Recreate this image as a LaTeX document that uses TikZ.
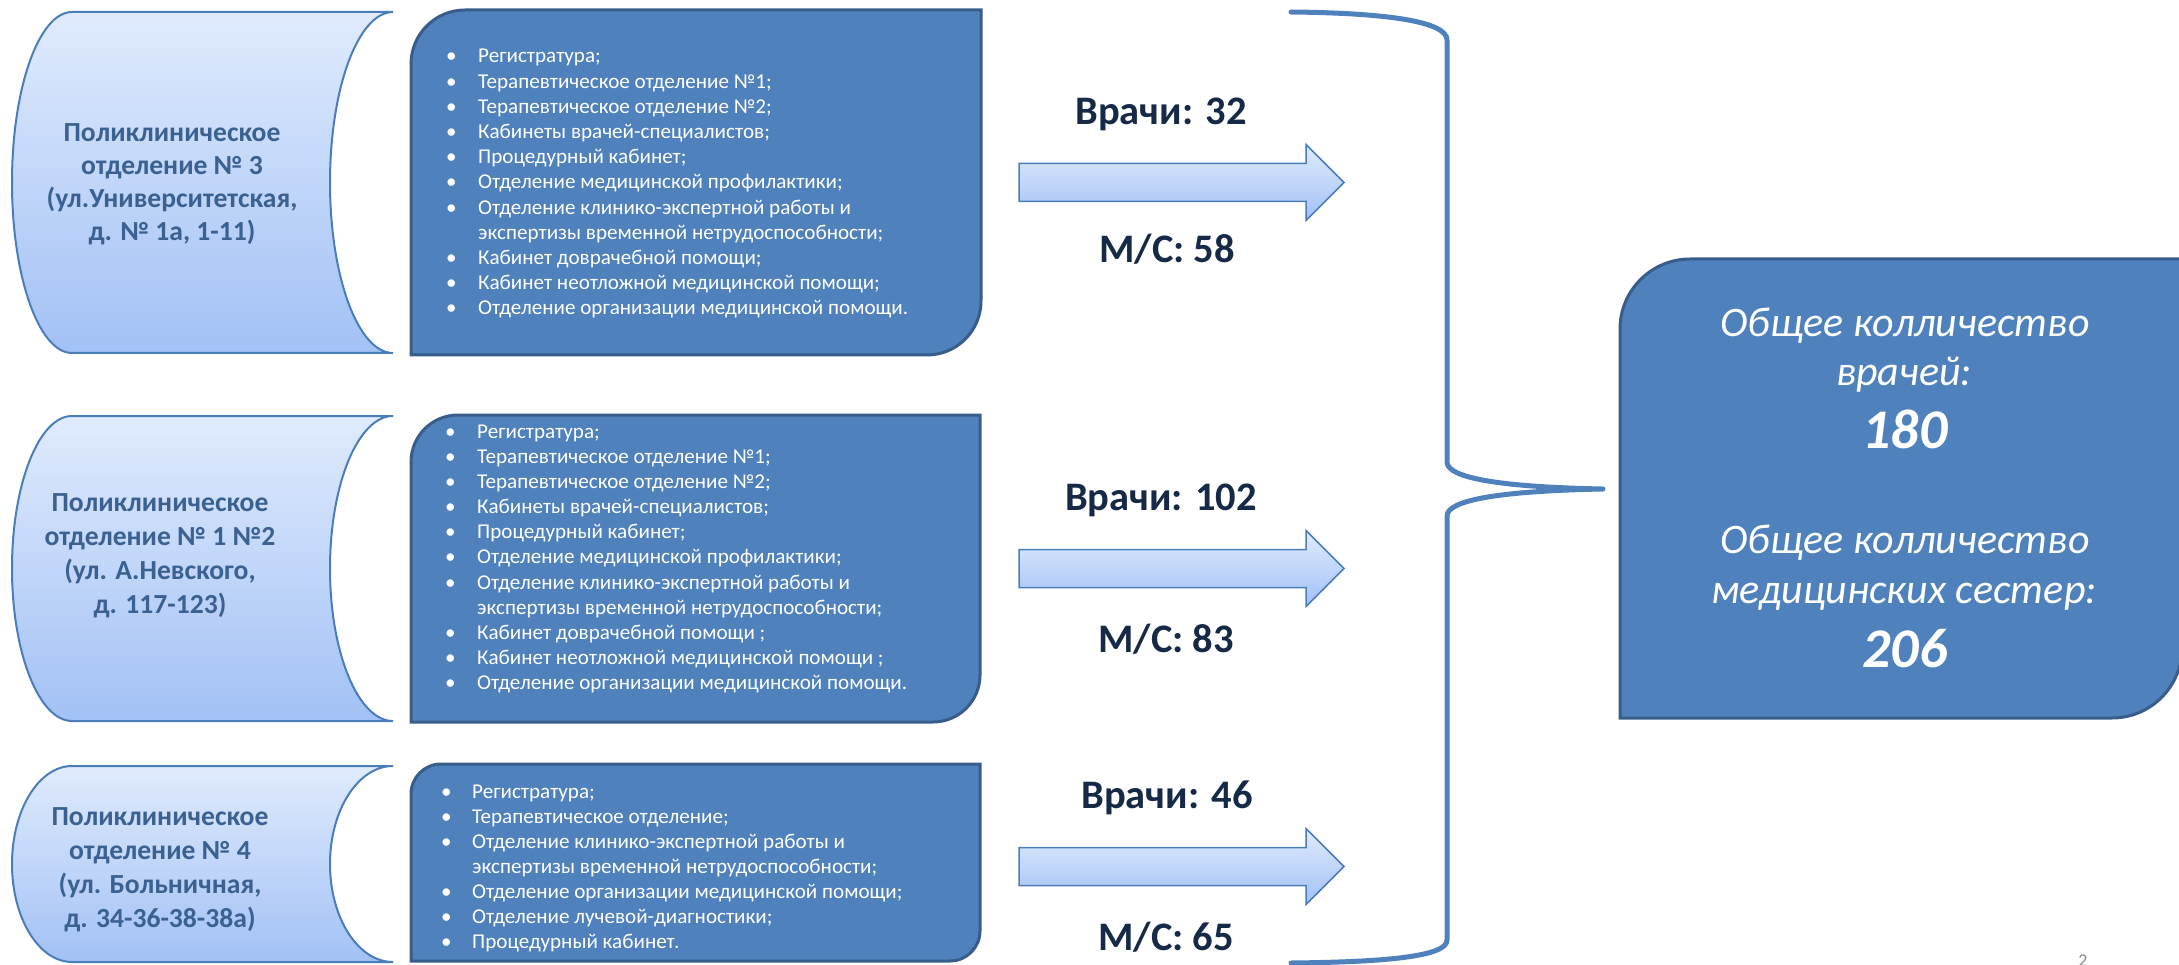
\documentclass[tikz,border=0pt]{standalone}
\usepackage{fontspec}
\setmainfont{Carlito}
\definecolor{boxblue}{RGB}{79,129,189}
\definecolor{boxedge}{RGB}{56,93,138}
\definecolor{lighttop}{RGB}{224,235,253}
\definecolor{lightbot}{RGB}{162,193,245}
\definecolor{shapeedge}{RGB}{74,126,187}
\definecolor{deptext}{RGB}{58,97,145}
\definecolor{navy}{RGB}{22,41,70}
\definecolor{slidenum}{RGB}{137,137,137}

\newcommand\bl[1]{\hbox{\makebox[32pt][l]{\textbullet}#1}}
\newcommand\blb[1]{\hbox{\makebox[31pt][l]{\textbullet}#1}}
\newcommand\cl[1]{\hbox{\hspace*{32pt}#1}}
\newcommand\clb[1]{\hbox{\hspace*{31pt}#1}}
\newcommand\cln[1]{\hbox to 330pt{\hfil#1\hfil}}

\newcommand\storedshape[2]{%
  \pgfmathsetmacro\sdmid{(#1+#2)/2}%
  \pgfmathsetmacro\sdk{(#2-#1)/2*0.5523}%
  \path[stored] (72,#1) -- (393,#1)
    .. controls (358.2,#1) and (330,\sdmid-\sdk) .. (330,\sdmid)
    .. controls (330,\sdmid+\sdk) and (358.2,#2) .. (393,#2)
    -- (72,#2)
    .. controls (38.9,#2) and (12,\sdmid+\sdk) .. (12,\sdmid)
    .. controls (12,\sdmid-\sdk) and (38.9,#1) .. (72,#1) -- cycle;}

\newcommand\diagbox[5]{%
  \pgfmathsetmacro\dbk{#5*0.4477}%
  \path[bluebox] (#1,#2+#5) .. controls (#1,#2+\dbk) and (#1+\dbk,#2) .. (#1+#5,#2)
   -- (#3,#2) -- (#3,#4-#5) .. controls (#3,#4-\dbk) and (#3-\dbk,#4) .. (#3-#5,#4)
   -- (#1,#4) -- cycle;}

\newcommand\blockarr[1]{%
  \path[blockarrow] (1019,#1-19) -- (1306,#1-19) -- (1306,#1-38) -- (1344,#1)
    -- (1306,#1+38) -- (1306,#1+19) -- (1019,#1+19) -- cycle;}

\tikzset{
 stored/.style={top color=lighttop, bottom color=lightbot, draw=shapeedge, line width=2pt},
 bluebox/.style={fill=boxblue, draw=boxedge, line width=3pt},
 blockarrow/.style={top color=lighttop, bottom color=lightbot, draw=shapeedge, line width=1.5pt},
 bracestyle/.style={draw=boxblue, line width=5pt, line cap=round, line join=round},
 deptxt/.style={anchor=base, inner sep=0pt, text=deptext, font=\fontsize{27.6}{33}\selectfont\bfseries},
 listtxt/.style={anchor=base west, inner sep=0pt, text=white, font=\fontsize{21.1}{25.2}\selectfont},
 counttxt/.style={anchor=base, inner sep=0pt, text=navy, font=\fontsize{40.5}{46}\selectfont\bfseries},
 totaltxt/.style={anchor=base, inner sep=0pt, text=white, font=\fontsize{42}{50}\selectfont\itshape},
 totalnum/.style={anchor=base, inner sep=0pt, text=white, font=\fontsize{56}{64}\selectfont\bfseries\itshape},
}

\begin{document}
\begin{tikzpicture}[x=1pt,y=-1pt]
\useasboundingbox (0,0) rectangle (2179,965);
\clip (0,0) rectangle (2179,965);

% left stored-data shapes
\storedshape{12}{353}
\storedshape{416}{721}
\storedshape{766}{962}

\node[deptxt] (dep3) at (172,142) {\vtop{\baselineskip=33pt
  \cln{Поликлиническое}\cln{отделение № 3}\cln{(ул.Университетская,}\cln{д. № 1а, 1-11)}}};
\node[deptxt] (dep12) at (160,511) {\vtop{\baselineskip=34pt
  \cln{Поликлиническое}\cln{отделение № 1 №2}\cln{(ул. А.Невского,}\cln{д. 117-123)}}};
\node[deptxt] (dep4) at (160,825) {\vtop{\baselineskip=34pt
  \cln{Поликлиническое}\cln{отделение № 4}\cln{(ул. Больничная,}\cln{д. 34-36-38-38а)}}};

% middle blue boxes
\diagbox{411}{10}{981}{355}{54}
\diagbox{411}{415}{980}{722}{47}
\diagbox{411}{764}{980}{961}{30}

\node[listtxt] (list3) at (446,63) {\vtop{\baselineskip=25.2pt
  \bl{Регистратура;}
  \bl{Терапевтическое отделение №1;}
  \bl{Терапевтическое отделение №2;}
  \bl{Кабинеты врачей-специалистов;}
  \bl{Процедурный кабинет;}
  \bl{Отделение медицинской профилактики;}
  \bl{Отделение клинико-экспертной работы и}
  \cl{экспертизы временной нетрудоспособности;}
  \bl{Кабинет доврачебной помощи;}
  \bl{Кабинет неотложной медицинской помощи;}
  \bl{Отделение организации медицинской помощи.}}};

\node[listtxt] (list12) at (445,438) {\vtop{\baselineskip=25.2pt
  \bl{Регистратура;}
  \bl{Терапевтическое отделение №1;}
  \bl{Терапевтическое отделение №2;}
  \bl{Кабинеты врачей-специалистов;}
  \bl{Процедурный кабинет;}
  \bl{Отделение медицинской профилактики;}
  \bl{Отделение клинико-экспертной работы и}
  \cl{экспертизы временной нетрудоспособности;}
  \bl{Кабинет доврачебной помощи ;}
  \bl{Кабинет неотложной медицинской помощи ;}
  \bl{Отделение организации медицинской помощи.}}};

\node[listtxt] (list4) at (441,798) {\vtop{\baselineskip=25pt
  \blb{Регистратура;}
  \blb{Терапевтическое отделение;}
  \blb{Отделение клинико-экспертной работы и}
  \clb{экспертизы временной нетрудоспособности;}
  \blb{Отделение организации медицинской помощи;}
  \blb{Отделение лучевой-диагностики;}
  \blb{Процедурный кабинет.}}};

% block arrows
\blockarr{182.5}
\blockarr{568.5}
\blockarr{866.5}

\node[counttxt] (v1) at (1161,125) {Врачи: 32};
\node[counttxt] (m1) at (1167,263) {М/С: 58};
\node[counttxt] (v2) at (1161,510) {Врачи: 102};
\node[counttxt] (m2) at (1166,652) {М/С: 83};
\node[counttxt] (v3) at (1167,808) {Врачи: 46};
\node[counttxt] (m3) at (1166,950) {М/С: 65};

% brace
\coordinate (bracetop) at (1291,12);
\coordinate (bracetip) at (1603,489);
\coordinate (bracebot) at (1291,963);
\draw[bracestyle] (bracetop) .. controls (1390,13) and (1447,22) .. (1447,40)
  -- (1447,462) .. controls (1447,478) and (1500,487) .. (bracetip)
  .. controls (1500,491) and (1447,500) .. (1447,516)
  -- (1447,940) .. controls (1447,956) and (1390,962) .. (bracebot);

% total box
\diagbox{1620}{259}{2182}{718}{70}
\node[totaltxt] (t1) at (1905,337) {Общее колличество};
\node[totaltxt] (t2) at (1904,385) {врачей:};
\node[totalnum] (t3) at (1905,448) {180};
\node[totaltxt] (t4) at (1905,553) {Общее колличество};
\node[totaltxt] (t5) at (1904,603) {медицинских сестер:};
\node[totalnum] (t6) at (1905,667) {206};

% slide number
\node[anchor=north, inner sep=0pt, text=slidenum, font=\fontsize{18}{20}\selectfont] (pg) at (2083,955) {2};
\end{tikzpicture}
\end{document}
